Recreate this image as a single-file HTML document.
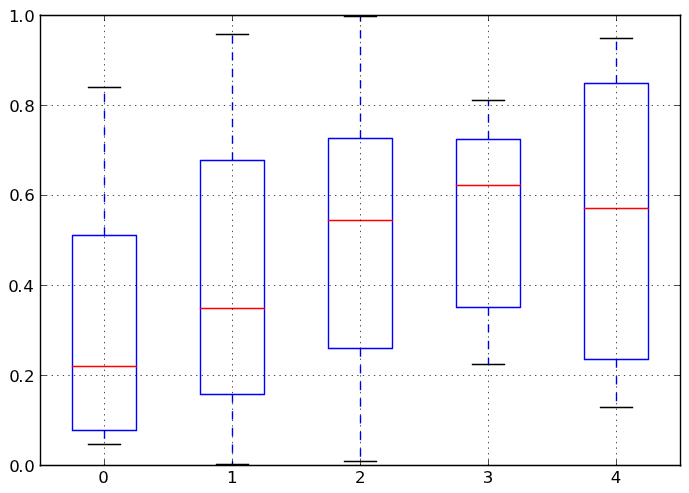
<!DOCTYPE html>
<html><head><meta charset="utf-8"><title>boxplot</title>
<style>html,body{margin:0;padding:0;background:#fff;}svg{display:block;will-change:transform;}text{font-family:"DejaVu Sans","Liberation Sans",sans-serif;font-size:16.667px;fill:#000;}</style></head><body>
<svg width="689" height="493" viewBox="0 0 689 493">
<g fill="none" stroke-width="1.389">
<path d="M104.5 430.5L104.5 444.5" stroke="#00f" stroke-dasharray="8.333 8.333"/>
<path d="M104.5 235.5L104.5 87.5" stroke="#00f" stroke-dasharray="8.333 8.333"/>
<path d="M88.5 444.5H120.5" stroke="#000" stroke-linecap="square"/>
<path d="M88.5 87.5H120.5" stroke="#000" stroke-linecap="square"/>
<path d="M72.5 430.5H136.5V235.5H72.5V430.5" stroke="#00f" stroke-linejoin="round" stroke-linecap="square"/>
<path d="M72.5 366.5H136.5" stroke="#f00" stroke-linecap="square"/>
</g>
<g fill="none" stroke-width="1.389">
<path d="M232.5 394.5L232.5 464.5" stroke="#00f" stroke-dasharray="8.333 8.333"/>
<path d="M232.5 160.5L232.5 34.5" stroke="#00f" stroke-dasharray="8.333 8.333"/>
<path d="M216.5 464.5H248.5" stroke="#000" stroke-linecap="square"/>
<path d="M216.5 34.5H248.5" stroke="#000" stroke-linecap="square"/>
<path d="M200.5 394.5H264.5V160.5H200.5V394.5" stroke="#00f" stroke-linejoin="round" stroke-linecap="square"/>
<path d="M200.5 308.5H264.5" stroke="#f00" stroke-linecap="square"/>
</g>
<g fill="none" stroke-width="1.389">
<path d="M360.5 348.5L360.5 461.5" stroke="#00f" stroke-dasharray="8.333 8.333"/>
<path d="M360.5 138.5L360.5 16.5" stroke="#00f" stroke-dasharray="8.333 8.333"/>
<path d="M344.5 461.5H376.5" stroke="#000" stroke-linecap="square"/>
<path d="M344.5 16.5H376.5" stroke="#000" stroke-linecap="square"/>
<path d="M328.5 348.5H392.5V138.5H328.5V348.5" stroke="#00f" stroke-linejoin="round" stroke-linecap="square"/>
<path d="M328.5 220.5H392.5" stroke="#f00" stroke-linecap="square"/>
</g>
<g fill="none" stroke-width="1.389">
<path d="M488.5 307.5L488.5 364.5" stroke="#00f" stroke-dasharray="8.333 8.333"/>
<path d="M488.5 139.5L488.5 100.5" stroke="#00f" stroke-dasharray="8.333 8.333"/>
<path d="M472.5 364.5H504.5" stroke="#000" stroke-linecap="square"/>
<path d="M472.5 100.5H504.5" stroke="#000" stroke-linecap="square"/>
<path d="M456.5 307.5H520.5V139.5H456.5V307.5" stroke="#00f" stroke-linejoin="round" stroke-linecap="square"/>
<path d="M456.5 185.5H520.5" stroke="#f00" stroke-linecap="square"/>
</g>
<g fill="none" stroke-width="1.389">
<path d="M616.5 359.5L616.5 407.5" stroke="#00f" stroke-dasharray="8.333 8.333"/>
<path d="M616.5 83.5L616.5 38.5" stroke="#00f" stroke-dasharray="8.333 8.333"/>
<path d="M600.5 407.5H632.5" stroke="#000" stroke-linecap="square"/>
<path d="M600.5 38.5H632.5" stroke="#000" stroke-linecap="square"/>
<path d="M584.5 359.5H648.5V83.5H584.5V359.5" stroke="#00f" stroke-linejoin="round" stroke-linecap="square"/>
<path d="M584.5 208.5H648.5" stroke="#f00" stroke-linecap="square"/>
</g>
<g fill="none" stroke="#000" stroke-width="0.694" stroke-dasharray="1.389 4.167">
<path d="M104.5 465.5L104.5 15.5"/>
<path d="M232.5 465.5L232.5 15.5"/>
<path d="M360.5 465.5L360.5 15.5"/>
<path d="M488.5 465.5L488.5 15.5"/>
<path d="M616.5 465.5L616.5 15.5"/>
<path d="M40.5 465.5L680.5 465.5"/>
<path d="M40.5 375.5L680.5 375.5"/>
<path d="M40.5 285.5L680.5 285.5"/>
<path d="M40.5 195.5L680.5 195.5"/>
<path d="M40.5 105.5L680.5 105.5"/>
<path d="M40.5 15.5L680.5 15.5"/>
</g>
<g fill="none" stroke="#000" stroke-width="0.694">
<path d="M104.5 465.5v-5.556"/>
<path d="M104.5 15.5v5.556"/>
<path d="M232.5 465.5v-5.556"/>
<path d="M232.5 15.5v5.556"/>
<path d="M360.5 465.5v-5.556"/>
<path d="M360.5 15.5v5.556"/>
<path d="M488.5 465.5v-5.556"/>
<path d="M488.5 15.5v5.556"/>
<path d="M616.5 465.5v-5.556"/>
<path d="M616.5 15.5v5.556"/>
<path d="M40.5 465.5h5.556"/>
<path d="M680.5 465.5h-5.556"/>
<path d="M40.5 375.5h5.556"/>
<path d="M680.5 375.5h-5.556"/>
<path d="M40.5 285.5h5.556"/>
<path d="M680.5 285.5h-5.556"/>
<path d="M40.5 195.5h5.556"/>
<path d="M680.5 195.5h-5.556"/>
<path d="M40.5 105.5h5.556"/>
<path d="M680.5 105.5h-5.556"/>
<path d="M40.5 15.5h5.556"/>
<path d="M680.5 15.5h-5.556"/>
</g>
<g fill="none" stroke="#000" stroke-width="1.389" stroke-linecap="square">
<path d="M40.30 15.5H680.70"/>
<path d="M40.30 465.5H680.70"/>
<path d="M40.5 15.30V465.70"/>
<path d="M680.5 15.30V465.70"/>
</g>
<text x="98.20" y="483.10">0</text>
<text x="227.05" y="483.10">1</text>
<text x="354.92" y="483.10">2</text>
<text x="482.73" y="483.10">3</text>
<text x="610.76" y="483.10">4</text>
<text x="9.20 18.36 24.20" y="472.00">0.0</text>
<text x="9.20 18.36 23.95" y="382.00">0.2</text>
<text x="8.20 17.36 23.26" y="292.00">0.4</text>
<text x="9.20 18.36 24.14" y="201.00">0.6</text>
<text x="9.20 18.36 24.20" y="112.00">0.8</text>
<text x="9.05 18.36 24.20" y="22.00">1.0</text>
</svg></body></html>
